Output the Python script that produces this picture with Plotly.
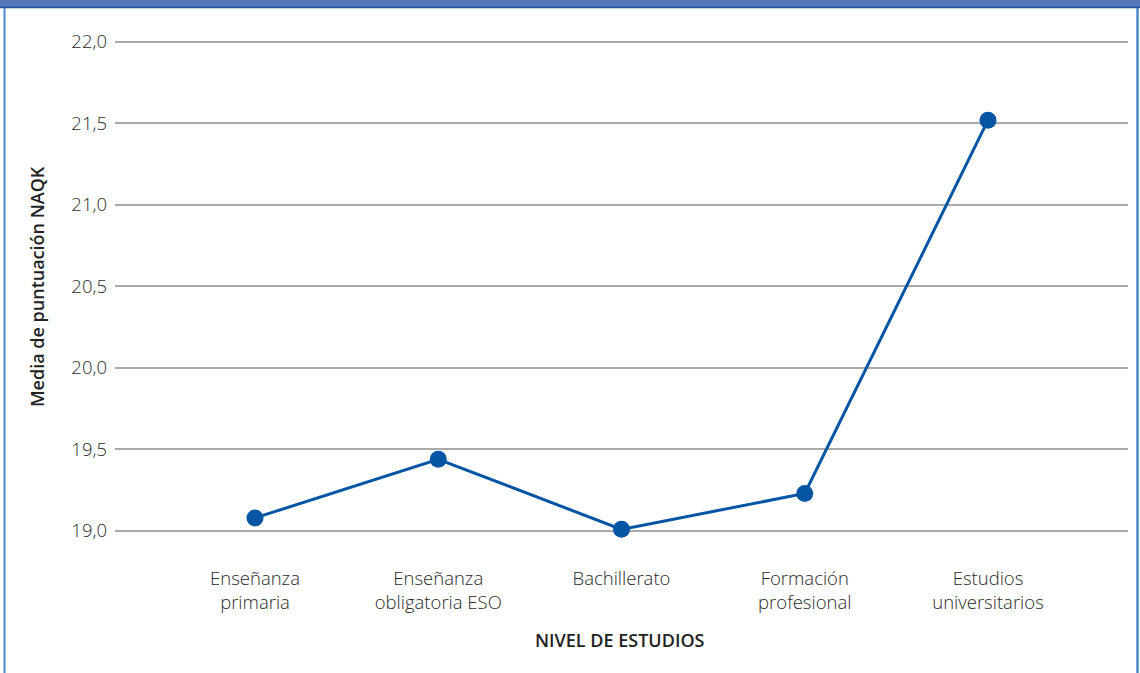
import plotly.graph_objects as go

categories = ["Enseñanza<br>primaria", "Enseñanza<br>obligatoria ESO", "Bachillerato",
              "Formación<br>profesional", "Estudios<br>universitarios"]
values = [19.08, 19.44, 19.01, 19.23, 21.52]
y_ticks = [19.0, 19.5, 20.0, 20.5, 21.0, 21.5, 22.0]
x_title = "NIVEL DE ESTUDIOS"
y_title = "Media de puntuación NAQK"

W, H = 1140, 673
L, R, T, B = 115, 12, 32, 128
pw, ph = W - L - R, H - T - B
def px(x):
    return (x - L) / pw
def py(y):
    return (H - B - y) / ph

x_idx = list(range(len(categories)))
FONT = "Open Sans"
TXT = "#2a2a2a"

fig = go.Figure()
fig.add_trace(go.Scatter(
    x=x_idx, y=values, mode="lines+markers",
    line=dict(color="#0455A4", width=3),
    marker=dict(color="#0455A4", size=17),
    showlegend=False, hoverinfo="skip",
))

shapes = [
    dict(type="rect", xref="paper", yref="paper", x0=px(-5), x1=px(W + 5), y0=py(7), y1=py(-5),
         fillcolor="#5878BC", line=dict(width=0), layer="above"),
    dict(type="line", xref="paper", yref="paper", x0=px(-5), x1=px(W + 5), y0=py(7.5), y1=py(7.5),
         line=dict(color="#1F52A0", width=1.5)),
    dict(type="line", xref="paper", yref="paper", x0=px(4.5), x1=px(4.5), y0=py(8), y1=py(H + 5),
         line=dict(color="#4A88CC", width=2)),
    dict(type="line", xref="paper", yref="paper", x0=px(1137.5), x1=px(1137.5), y0=py(8), y1=py(H + 5),
         line=dict(color="#4A88CC", width=2.5)),
]

fig.update_layout(
    width=W, height=H,
    margin=dict(l=L, r=R, t=T, b=B),
    paper_bgcolor="white", plot_bgcolor="white",
    separators=",.",
    font=dict(family=FONT, size=18, color=TXT),
    shapes=shapes,
    xaxis=dict(
        range=[-0.764, 4.764], tickmode="array", tickvals=x_idx, ticktext=categories,
        showgrid=False, zeroline=False, showline=False, ticks="",
        tickfont=dict(family=FONT, size=18.5, color=TXT, weight=300), ticklabelstandoff=20,
    ),
    yaxis=dict(
        range=[18.914, 22.061], tickmode="array", tickvals=y_ticks,
        tickformat=".1f", showgrid=True, gridcolor="#AAAAAA", gridwidth=1.5,
        zeroline=False, showline=False, ticks="",
        tickfont=dict(family=FONT, size=18.5, color=TXT, weight=300), ticklabelstandoff=7,
    ),
    annotations=[
        dict(text=y_title, xref="paper", yref="paper", x=px(37), y=py(287), textangle=-90,
             showarrow=False, font=dict(family=FONT, size=18, color="#222222", weight=600),
             xanchor="center", yanchor="middle"),
        dict(text=x_title, xref="paper", yref="paper", x=px(620), y=py(640),
             showarrow=False, font=dict(family=FONT, size=18, color="#222222", weight=600),
             xanchor="center", yanchor="middle"),
    ],
)

fig.write_html("out.html")
